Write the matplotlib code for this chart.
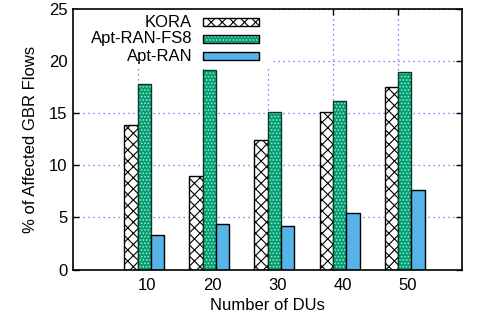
import numpy as np
import matplotlib.pyplot as plt
from matplotlib.patches import Rectangle

plt.rcParams['font.family'] = ['Liberation Sans', 'DejaVu Sans']
plt.rcParams['font.size'] = 12
plt.rcParams['hatch.linewidth'] = 0.8

# data
num_dus = ['10', '20', '30', '40', '50']
kora = [13.85, 8.97, 12.47, 15.13, 17.5]
apt_ran_fs8 = [17.85, 19.1, 15.07, 16.2, 18.97]
apt_ran = [3.34, 4.39, 4.17, 5.45, 7.6]

series = ['KORA', 'Apt-RAN-FS8', 'Apt-RAN']
green = '#009e73'
blue = '#56b4e9'

fig = plt.figure(figsize=(4.84, 3.22), dpi=100)
ax = fig.add_axes([0.151, 0.163, 0.804, 0.809])

x = np.arange(len(num_dus))
w = 0.205
offs = [-0.11, 0.095, 0.30]

# KORA: white with black crosshatch
ax.bar(x + offs[0], kora, w, facecolor='white', edgecolor='black', hatch='xxx', lw=1.0, zorder=3)
# Apt-RAN-FS8: green with light checker dots, outline drawn on top
ax.bar(x + offs[1], apt_ran_fs8, w, facecolor=green, edgecolor='#9fe3c9', hatch='.....', lw=0, zorder=3)
ax.bar(x + offs[1], apt_ran_fs8, w, facecolor='none', edgecolor='#0b3a2c', lw=1.0, zorder=3)
# Apt-RAN: plain blue
ax.bar(x + offs[2], apt_ran, w, facecolor=blue, edgecolor='black', lw=1.0, zorder=3)

ax.set_xlim(-1.0, 4.98)
ax.set_ylim(0, 25)
ax.set_yticks([0, 5, 10, 15, 20, 25])
# major ticks carry the grid, minor ticks (a bit to the right) carry the labels
ax.set_xticks(x)
ax.set_xticklabels([])
ax.set_xticks(x + 0.14, minor=True)
ax.set_xticklabels(num_dus, minor=True)
ax.tick_params(axis='x', which='minor', length=0, pad=6)

ax.tick_params(which='major', direction='in', length=4, width=1, top=True, right=True, pad=4)
ax.grid(True, which='major', color='#3333ff', linestyle=(0, (1, 3)), lw=0.9, alpha=0.8, zorder=0)
ax.set_axisbelow(True)
for s in ax.spines.values():
    s.set_linewidth(1.2)
    s.set_zorder(6)

ax.set_xlabel('Number of DUs', labelpad=4)
ax.set_ylabel('% of Affected GBR Flows', labelpad=8)

# gnuplot-style key: opaque box, right-aligned text, sample to the right
ax.add_patch(Rectangle((0, 0.781), 0.506, 0.219, transform=ax.transAxes,
                       facecolor='white', edgecolor='none', zorder=4))
rows = [0.950, 0.885, 0.819]
styles = [dict(facecolor='white', hatch='xxx', edgecolor='black'),
          dict(facecolor=green, hatch='.....', edgecolor='#9fe3c9'),
          dict(facecolor=blue, edgecolor='black')]
for name, yy, st in zip(series, rows, styles):
    ax.text(0.306, yy, name, transform=ax.transAxes, ha='right', va='center', zorder=5)
    ax.add_patch(Rectangle((0.334, yy - 0.016), 0.144, 0.032, transform=ax.transAxes,
                           lw=0, zorder=5, **st))
    ax.add_patch(Rectangle((0.334, yy - 0.016), 0.144, 0.032, transform=ax.transAxes,
                           facecolor='none', edgecolor='black', lw=1.0, zorder=5))

fig.savefig('out.png', dpi=100)
